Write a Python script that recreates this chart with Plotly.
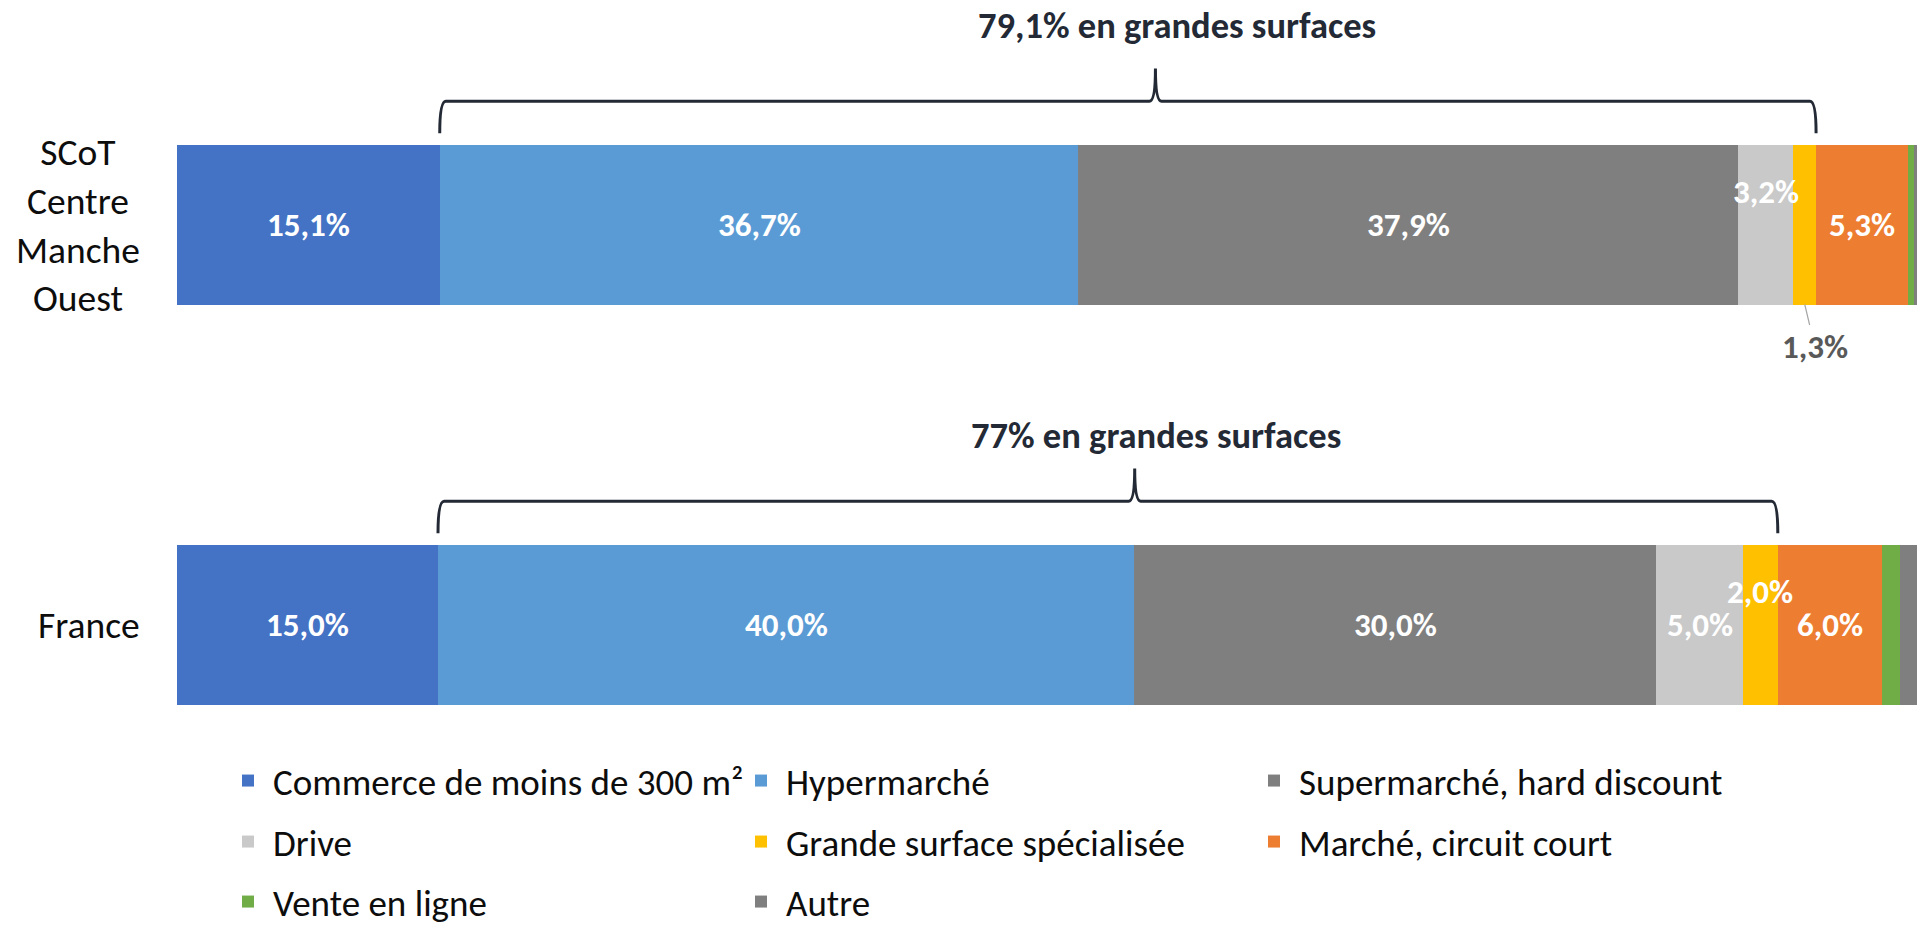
import plotly.graph_objects as go

# ---------------- data ----------------
categories = ["SCoT Centre Manche Ouest", "France"]
category_display = ["SCoT<br>Centre<br>Manche<br>Ouest", "France"]

series_names = [
    "Commerce de moins de 300 m²",
    "Hypermarché",
    "Supermarché, hard discount",
    "Drive",
    "Grande surface spécialisée",
    "Marché, circuit court",
    "Vente en ligne",
    "Autre",
]
commerce_moins_300 = [15.1, 15.0]
hypermarche = [36.7, 40.0]
supermarche = [37.9, 30.0]
drive = [3.2, 5.0]
grande_surface_specialisee = [1.3, 2.0]
marche_circuit_court = [5.3, 6.0]
vente_en_ligne = [0.3, 1.0]
autre = [0.2, 1.0]

grandes_surfaces_pct = [79.1, 77.0]
grandes_surfaces_text = ["79,1% en grandes surfaces", "77% en grandes surfaces"]

series_values = [
    commerce_moins_300, hypermarche, supermarche, drive,
    grande_surface_specialisee, marche_circuit_court, vente_en_ligne, autre,
]
series_colors = ["#4472C4", "#5B9BD5", "#7F7F7F", "#C9C9C9",
                 "#FFC000", "#ED7D31", "#70AD47", "#7F7F7F"]
labelled = [True, True, True, True, True, True, False, False]
legend_rows = ["legend", "legend", "legend", "legend2", "legend2", "legend2", "legend3", "legend3"]

# ---------------- style ----------------
FONT = "Carlito, Lato, sans-serif"
W, H = 1917, 927
ML = 177
Y1_PX = 224.5                # pixel of the first bar centre
PX_PER_UNIT = 400
y_pos = [1, 0]
BAR_W = 0.4
BRACE_COLOR = "#232A35"
TXT = "#0D0D0D"

fig = go.Figure()
for name, vals, col, leg in zip(series_names, series_values, series_colors, legend_rows):
    fig.add_trace(go.Bar(
        x=vals, y=y_pos, orientation="h", width=BAR_W, name=name,
        marker=dict(color=col, line=dict(width=0)),
        textposition="none", legend=leg,
        hovertemplate="%{x:.1f}%<extra>" + name + "</extra>",
    ))

def fmt(v):
    return f"{v:.1f}".replace(".", ",") + "%"

annotations = []
shapes = []
for j, yp in enumerate(y_pos):
    base = 0.0
    for i, vals in enumerate(series_values):
        v = vals[j]
        cx = base + v / 2
        if labelled[i]:
            if v < 1.5:
                annotations.append(dict(
                    x=cx, y=yp - BAR_W / 2, xref="x", yref="y", text="<b>" + fmt(v) + "</b>",
                    showarrow=True, arrowhead=0, arrowwidth=1.2, arrowcolor="#A6A6A6",
                    ax=10, ay=42, standoff=0,
                    font=dict(family=FONT, size=33, color="#595959")))
            else:
                annotations.append(dict(
                    x=cx, y=yp, xref="x", yref="y", text="<b>" + fmt(v) + "</b>",
                    showarrow=False, yshift=33 if v < 4 else 0,
                    font=dict(family=FONT, size=33, color="white")))
        base += v

    # brace over "grandes surfaces"
    x0 = commerce_moins_300[j]
    span = grandes_surfaces_pct[j]
    x1 = x0 + span
    xm = x0 + 0.52 * span
    top = yp + BAR_W / 2
    y_end = top + 0.028
    y_h = top + 0.108
    y_pk = top + 0.19
    d = 0.35
    path = (f"M{x0},{y_end} Q{x0},{y_h} {x0 + d},{y_h} L{xm - d},{y_h} "
            f"Q{xm},{y_h} {xm},{y_pk} Q{xm},{y_h} {xm + d},{y_h} "
            f"L{x1 - d},{y_h} Q{x1},{y_h} {x1},{y_end}")
    shapes.append(dict(type="path", path=path, xref="x", yref="y",
                       line=dict(color=BRACE_COLOR, width=3)))
    annotations.append(dict(
        x=x0 + 0.536 * span, y=top + 0.28, xref="x", yref="y",
        yshift=7 if j == 0 else -3,
        text="<b>" + grandes_surfaces_text[j] + "</b>", showarrow=False,
        font=dict(family=FONT, size=36.5, color=BRACE_COLOR)))

    # category label
    annotations.append(dict(
        x=0, y=yp, xref="paper", yref="y", xanchor="right", yanchor="middle",
        xshift=-35, text=category_display[j], align="center", showarrow=False,
        font=dict(family=FONT, size=37.5, color=TXT)))

y_top = 1 + Y1_PX / PX_PER_UNIT
y_bot = 1 - (H - Y1_PX) / PX_PER_UNIT

leg_common = dict(orientation="h", xanchor="left", yanchor="middle",
                  entrywidth=458, entrywidthmode="pixels", itemwidth=40,
                  bgcolor="rgba(0,0,0,0)", traceorder="normal",
                  font=dict(family=FONT, size=37, color=TXT))
lx = (223 - ML) / (W - ML)

fig.update_layout(
    width=W, height=H,
    margin=dict(l=ML, r=0, t=0, b=0, autoexpand=False),
    barmode="stack",
    plot_bgcolor="white", paper_bgcolor="white",
    font=dict(family=FONT, size=33, color=TXT),
    xaxis=dict(range=[0, 100], visible=False, fixedrange=True),
    yaxis=dict(range=[y_bot, y_top], visible=False, fixedrange=True),
    showlegend=True,
    legend=dict(leg_common, x=lx, y=1 - 781 / H),
    legend2=dict(leg_common, x=lx, y=1 - 842 / H),
    legend3=dict(leg_common, x=lx, y=1 - 902 / H),
    annotations=annotations,
    shapes=shapes,
)

# remove the default 8px body margin so the 1917x927 figure fills the window exactly
fig.write_html("out.html", config={"displayModeBar": False},
               post_script="document.body.style.margin='0';")
